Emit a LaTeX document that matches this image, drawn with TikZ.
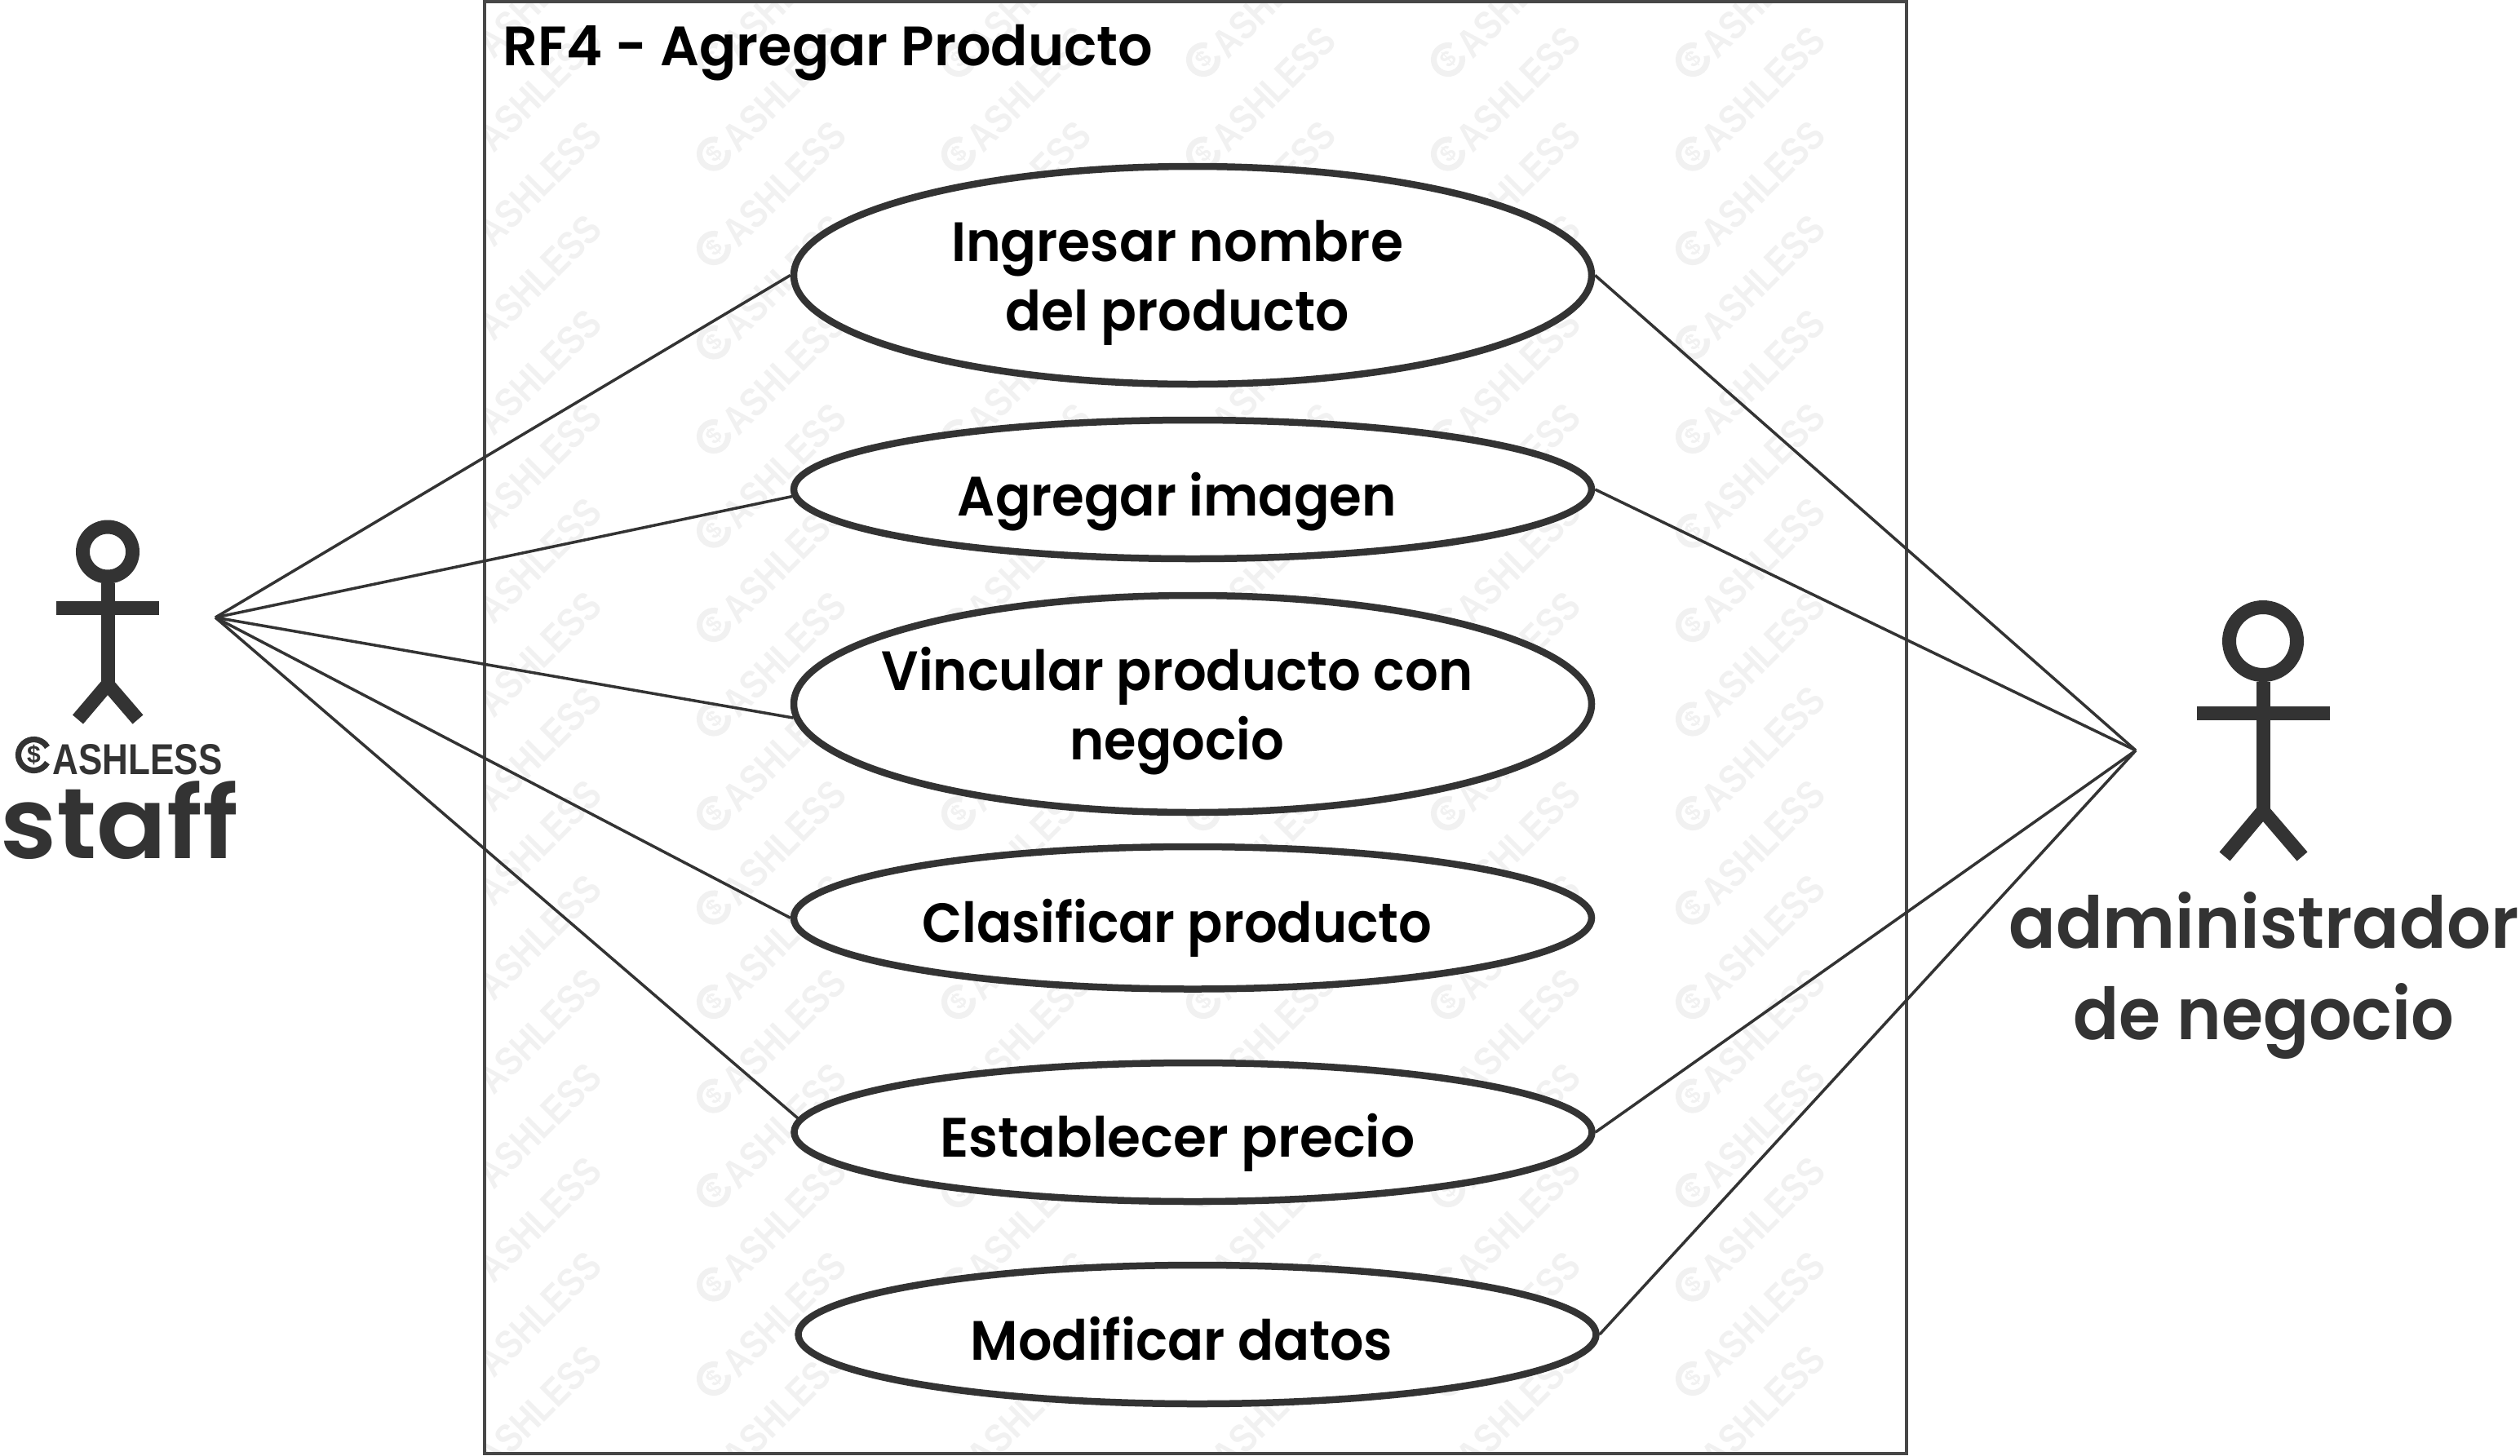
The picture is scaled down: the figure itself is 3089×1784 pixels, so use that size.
\documentclass[tikz,border=0pt]{standalone}
\usepackage{fontspec}
\usepackage{graphicx}
\usetikzlibrary{shapes.geometric}
\setmainfont{Poppins}
\newfontfamily\pmed{Poppins Medium}
\newfontfamily\psemi{Poppins SemiBold}
\newfontfamily\lsans{Liberation Sans Bold}
\definecolor{ink}{HTML}{333333}
\definecolor{wmark}{HTML}{F1F1F1}
% one line of text: zero-size box, x-scaled by #1, shifted #2 px sideways, baseline #3 (half px) below the node centre
\newcommand{\tline}[4]{\makebox[0pt]{\hspace*{#2pt}\raisebox{#3pt}[0pt][0pt]{\scalebox{#1}[1]{#4}}}}
\tikzset{
  ucase/.style={ellipse,draw=ink,fill=white,line width=4.25pt,inner sep=0pt,minimum width=978*0.5pt,text=black,font=\psemi\fontsize{34pt}{34pt}\selectfont},
  conn/.style={draw=ink,line width=1.75pt},
  actorline/.style={draw=ink,line width=8.5pt,line join=miter,line cap=butt},
  pics/logo/.style={code={
    \draw[line width=#1] (30:9.5pt) arc[start angle=30,end angle=330,radius=9.5pt];
    \node[inner sep=0pt,transform shape,font=\lsans\fontsize{15pt}{15pt}\selectfont] (-d) at (0,0) {\$};
    \node[inner sep=0pt,anchor=base west,transform shape,xscale=.83,font=\lsans\fontsize{26.5pt}{26.5pt}\selectfont] (-t) at (23,23.5) {ASHLESS};
  }}
}
\begin{document}
\begin{tikzpicture}[x=0.5pt,y=-0.5pt]
\useasboundingbox (0,0) rectangle (3089,1784);
% watermark
\begin{scope}
\clip (593,2) rectangle (2337,1782);
\foreach \cc in {0,...,5}{
  \foreach \rr in {-1,...,15}{
    \pic[color=wmark,rotate=45,scale=.92,transform shape] (wm\cc-\rr) at ({575+\cc*300},{73+\rr*115.5}) {logo=3.6pt};
  }
}
\end{scope}
% system boundary
\node[draw=ink!90!white,line width=2pt,minimum width=1743.5*0.5pt,minimum height=1780*0.5pt,inner sep=0pt] (sys) at (1465.25,892) {};
\node[inner sep=0pt,anchor=base west,transform shape,xscale=.983,font=\psemi\fontsize{34pt}{34pt}\selectfont,text=black] (title) at (616,80) {RF4 - Agregar Producto};
% use cases
\node[ucase,minimum height=267*0.5pt] (e1) at (1462,337.5) {\tline{.953}{-19}{8.75}{Ingresar nombre}\tline{.953}{-19}{-33.75}{del producto}};
\node[ucase,minimum height=170*0.5pt] (e2) at (1462,600) {\tline{.945}{-19}{-16}{Agregar imagen}};
\node[ucase,minimum height=266*0.5pt] (e3) at (1462,863) {\tline{.94}{-19}{8.5}{Vincular producto con}\tline{.94}{-19}{-34}{negocio}};
\node[ucase,minimum height=174.5*0.5pt] (e4) at (1462,1125.25) {\tline{.94}{-19}{-15}{Clasificar producto}};
\node[ucase,minimum height=170*0.5pt] (e5) at (1462.5,1388) {\tline{.973}{-19}{-15}{Establecer precio}};
\node[ucase,minimum height=170*0.5pt] (e6) at (1467.5,1636) {\tline{.956}{-19}{-15.5}{Modificar datos}};
% hubs
\coordinate (lhub) at (264,757);
\coordinate (rhub) at (2618,920);
\draw[conn] (lhub) -- (e1.west);
\draw[conn] (lhub) -- (e2.181);
\draw[conn] (lhub) -- (e3.182);
\draw[conn] (lhub) -- (e4.west);
\draw[conn] (lhub) -- (e5.178);
\draw[conn] (rhub) -- (e1.east);
\draw[conn] (rhub) -- (e2.east);
\draw[conn] (rhub) -- (e5.east);
\draw[conn] (rhub) -- (e6.east);
% left actor
\draw[actorline] (132,676.5) circle[radius=15.25pt];
\draw[actorline] (132,715) -- (132,845);
\draw[actorline] (69,745.5) -- (195,745.5);
\draw[actorline] (95.5,882) -- (132,839) -- (169,882);
\pic[color=ink] (lg) at (41.5,925.5) {logo=3.6pt};
\node[inner sep=0pt,anchor=base,transform shape,xscale=1.04,text=ink,font=\psemi\fontsize{61pt}{61pt}\selectfont] (staff) at (146.5,1052) {staff};
% right actor
\draw[actorline] (2774,786) circle[radius=20.75pt];
\draw[actorline] (2774,836) -- (2774,996);
\draw[actorline] (2693,874.5) -- (2856,874.5);
\draw[actorline] (2727,1050) -- (2774,994) -- (2822,1050);
\node[inner sep=0pt,anchor=base,transform shape,xscale=.966,text=ink,font=\psemi\fontsize{44pt}{44pt}\selectfont] (adm1) at (2775,1162) {administrador};
\node[inner sep=0pt,anchor=base,transform shape,xscale=.94,text=ink,font=\psemi\fontsize{44pt}{44pt}\selectfont] (adm2) at (2775,1274) {de negocio};
\end{tikzpicture}
\end{document}
